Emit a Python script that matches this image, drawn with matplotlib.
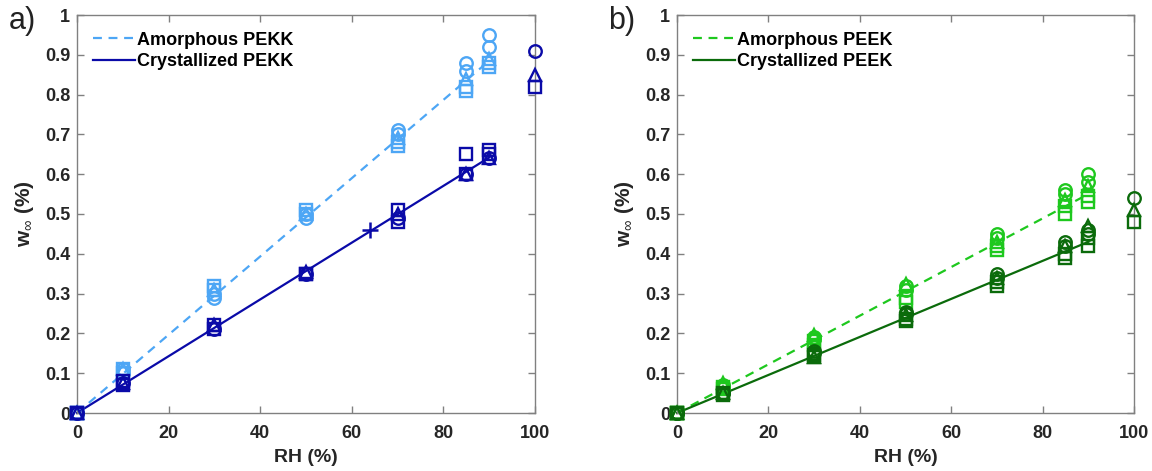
import matplotlib
matplotlib.use("Agg")
import matplotlib.pyplot as plt
from matplotlib.ticker import FuncFormatter

plt.rcParams['font.family'] = ['Liberation Sans', 'DejaVu Sans']
plt.rcParams['mathtext.fontset'] = 'custom'
plt.rcParams['mathtext.bf'] = 'Liberation Sans:bold'
plt.rcParams['mathtext.rm'] = 'Liberation Sans'

RH = [0, 10, 30, 50, 70, 85, 90]

# ---- PEKK ----
amo_pekk_o1 = [0, 0.11, 0.29, 0.49, 0.71, 0.88, 0.95]
amo_pekk_o2 = [0, 0.10, 0.30, 0.50, 0.70, 0.86, 0.92]
amo_pekk_s1 = [0, 0.11, 0.32, 0.51, 0.67, 0.81, 0.87]
amo_pekk_s2 = [0, 0.10, 0.31, 0.50, 0.68, 0.82, 0.88]
amo_pekk_t = [0, 0.11, 0.31, 0.50, 0.69, 0.84, 0.89]
amo_pekk_fit_x = [0, 90]
amo_pekk_fit_y = [0, 0.885]

cry_pekk_o = [0, 0.075, 0.21, 0.35, 0.49, 0.60, 0.64]
cry_pekk_s1 = [0, 0.08, 0.22, 0.35, 0.51, 0.65, 0.66]
cry_pekk_s2 = [0, 0.07, 0.21, 0.35, 0.48, 0.60, 0.65]
cry_pekk_t = [0, 0.075, 0.22, 0.355, 0.50, 0.60, 0.64]
cry_pekk_fit_x = [0, 90]
cry_pekk_fit_y = [0, 0.642]
cry_pekk_plus_x = [64]
cry_pekk_plus_y = [0.46]
pekk_rh100 = [100]
pekk_rh100_o = [0.91]
pekk_rh100_t = [0.85]
pekk_rh100_s = [0.82]

# ---- PEEK ----
amo_peek_o1 = [0, 0.07, 0.19, 0.32, 0.45, 0.56, 0.60]
amo_peek_o2 = [0, 0.065, 0.185, 0.31, 0.44, 0.55, 0.58]
amo_peek_s1 = [0, 0.06, 0.18, 0.29, 0.41, 0.50, 0.53]
amo_peek_s2 = [0, 0.065, 0.17, 0.28, 0.42, 0.52, 0.545]
amo_peek_t = [0, 0.075, 0.195, 0.325, 0.43, 0.535, 0.57]
amo_peek_fit_x = [0, 90]
amo_peek_fit_y = [0, 0.55]

cry_peek_o1 = [0, 0.05, 0.155, 0.255, 0.35, 0.43, 0.46]
cry_peek_o2 = [0, 0.05, 0.15, 0.25, 0.34, 0.42, 0.45]
cry_peek_s1 = [0, 0.045, 0.14, 0.23, 0.32, 0.39, 0.42]
cry_peek_s2 = [0, 0.05, 0.145, 0.235, 0.33, 0.40, 0.44]
cry_peek_t = [0, 0.05, 0.14, 0.245, 0.34, 0.42, 0.47]
cry_peek_fit_x = [0, 90]
cry_peek_fit_y = [0, 0.43]
peek_rh100 = [100]
peek_rh100_o = [0.54]
peek_rh100_t = [0.51]
peek_rh100_s = [0.48]

xticks = [0, 20, 40, 60, 80, 100]
yticks = [0, 0.1, 0.2, 0.3, 0.4, 0.5, 0.6, 0.7, 0.8, 0.9, 1.0]

C_AMO_PEKK = '#4da6f5'
C_CRY_PEKK = '#0a0aa8'
C_AMO_PEEK = '#1ec81e'
C_CRY_PEEK = '#0b6b0b'

fig = plt.figure(figsize=(11.52, 4.71), dpi=100)
W, H = 1152, 471
ax1 = fig.add_axes([77 / W, (H - 413) / H, 458 / W, 398 / H])
ax2 = fig.add_axes([677 / W, (H - 413) / H, 457 / W, 398 / H])

ms = 9
mew = 1.7


def scatter_set(ax, x, series, color):
    for y, m in series:
        ax.plot(x, y, linestyle='none', marker=m, markersize=ms, markeredgewidth=mew,
                markerfacecolor='none', markeredgecolor=color, zorder=3)


# Panel a
scatter_set(ax1, RH, [(amo_pekk_o1, 'o'), (amo_pekk_o2, 'o'), (amo_pekk_s1, 's'),
                      (amo_pekk_s2, 's'), (amo_pekk_t, '^')], C_AMO_PEKK)
scatter_set(ax1, RH, [(cry_pekk_o, 'o'), (cry_pekk_s1, 's'), (cry_pekk_s2, 's'),
                      (cry_pekk_t, '^')], C_CRY_PEKK)
scatter_set(ax1, pekk_rh100, [(pekk_rh100_o, 'o'), (pekk_rh100_t, '^'), (pekk_rh100_s, 's')], C_CRY_PEKK)
ax1.plot(cry_pekk_plus_x, cry_pekk_plus_y, linestyle='none', marker='+', markersize=11,
         markeredgewidth=1.8, color=C_CRY_PEKK, zorder=3)
ax1.plot(amo_pekk_fit_x, amo_pekk_fit_y, linestyle=(0, (4, 3)), color=C_AMO_PEKK, lw=1.6,
         label='Amorphous PEKK', zorder=2)
ax1.plot(cry_pekk_fit_x, cry_pekk_fit_y, linestyle='-', color=C_CRY_PEKK, lw=1.6,
         label='Crystallized PEKK', zorder=2)

# Panel b
scatter_set(ax2, RH, [(amo_peek_o1, 'o'), (amo_peek_o2, 'o'), (amo_peek_s1, 's'),
                      (amo_peek_s2, 's'), (amo_peek_t, '^')], C_AMO_PEEK)
scatter_set(ax2, RH, [(cry_peek_o1, 'o'), (cry_peek_o2, 'o'), (cry_peek_s1, 's'),
                      (cry_peek_s2, 's'), (cry_peek_t, '^')], C_CRY_PEEK)
scatter_set(ax2, peek_rh100, [(peek_rh100_o, 'o'), (peek_rh100_t, '^'), (peek_rh100_s, 's')], C_CRY_PEEK)
ax2.plot(amo_peek_fit_x, amo_peek_fit_y, linestyle=(0, (4, 3)), color=C_AMO_PEEK, lw=1.6,
         label='Amorphous PEEK', zorder=2)
ax2.plot(cry_peek_fit_x, cry_peek_fit_y, linestyle='-', color=C_CRY_PEEK, lw=1.6,
         label='Crystallized PEEK', zorder=2)

fmt = FuncFormatter(lambda v, p: f'{v:g}')
for ax, tag in ((ax1, 'a)'), (ax2, 'b)')):
    ax.set_xlim(0, 100)
    ax.set_ylim(0, 1)
    ax.set_xticks(xticks)
    ax.set_yticks(yticks)
    ax.yaxis.set_major_formatter(fmt)
    ax.xaxis.set_major_formatter(fmt)
    ax.tick_params(direction='in', top=True, right=True, length=5, width=1,
                   color='#808080', labelsize=13)
    ax.tick_params(axis='x', pad=9)
    ax.tick_params(axis='y', pad=5)
    for lab in ax.get_xticklabels() + ax.get_yticklabels():
        lab.set_fontweight('bold')
        lab.set_color('#262626')
    for s in ax.spines.values():
        s.set_color('#808080')
        s.set_linewidth(1)
    for ln in ax.lines:
        ln.set_clip_on(False)
    ax.set_xlabel('RH (%)', fontsize=14, fontweight='bold', color='#262626', labelpad=5)
    ax.set_ylabel(r'$\mathbf{w}_{\infty}$ (%)', fontsize=15, fontweight='bold', color='#262626',
                  labelpad=6)
    leg = ax.legend(loc='upper left', frameon=False, fontsize=13, handlelength=2.3,
                    handletextpad=0.1, borderaxespad=0.2, labelspacing=0.25,
                    bbox_to_anchor=(0.012, 0.985))
    for t in leg.get_texts():
        t.set_fontweight('bold')
    ax.text(-0.15, 0.985, tag, transform=ax.transAxes, fontsize=22, ha='left', va='center',
            color='#222222')

fig.savefig('out.png', dpi=100)
